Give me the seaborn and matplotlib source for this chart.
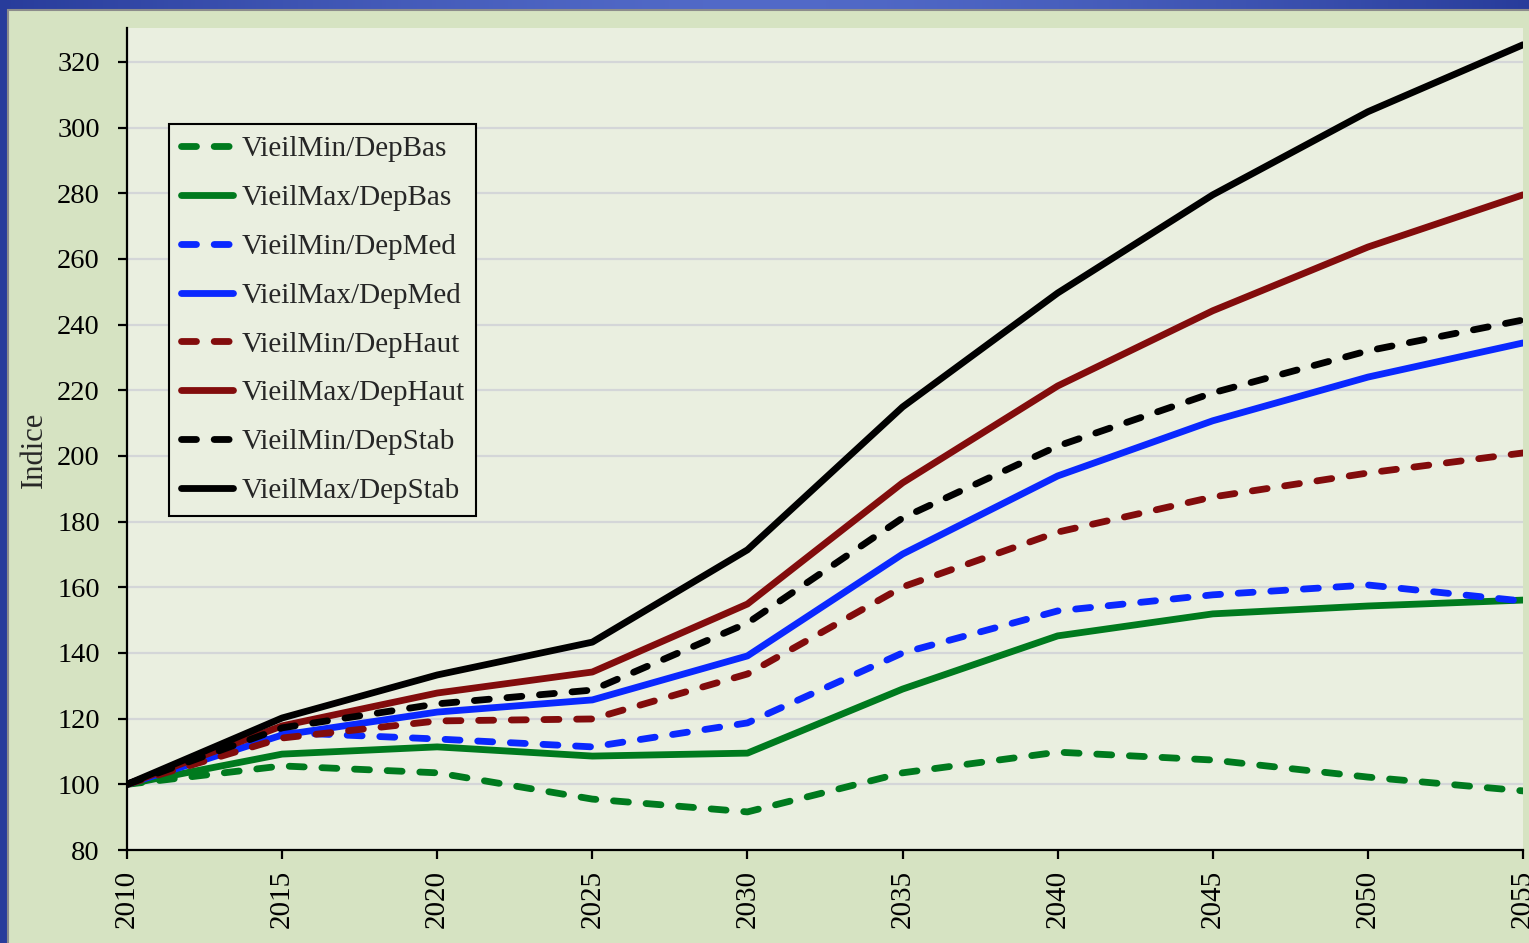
import numpy as np
import pandas as pd
import matplotlib
matplotlib.use("Agg")
import matplotlib.pyplot as plt
from matplotlib.patches import Rectangle
import seaborn as sns

# Index values (base 100 in 2010) for each ageing / dependency scenario
years = [2010, 2015, 2020, 2025, 2030, 2035, 2040, 2045, 2050, 2055]
vieilmin_depbas = [100, 105.6, 103.5, 95.5, 91.6, 103.5, 109.8, 107.4, 102.2, 98.0]
vieilmax_depbas = [100, 109.2, 111.4, 108.6, 109.5, 129.0, 145.2, 151.9, 154.3, 156.1]
vieilmin_depmed = [100, 115.8, 113.8, 111.4, 118.7, 140.0, 152.8, 157.7, 160.7, 155.8]
vieilmax_depmed = [100, 115.0, 122.0, 125.7, 139.1, 170.1, 193.9, 210.7, 224.0, 234.4]
vieilmin_dephaut = [100, 114.1, 119.3, 119.9, 133.6, 160.1, 176.8, 187.5, 194.8, 200.9]
vieilmax_dephaut = [100, 117.8, 127.8, 134.2, 154.9, 191.8, 221.3, 244.2, 263.6, 279.5]
vieilmin_depstab = [100, 117.2, 124.5, 128.7, 149.1, 181.1, 203.0, 219.2, 232.0, 241.4]
vieilmax_depstab = [100, 120.2, 133.3, 143.3, 171.4, 214.9, 249.6, 279.5, 304.8, 325.2]

series_names = [
    "VieilMin/DepBas", "VieilMax/DepBas",
    "VieilMin/DepMed", "VieilMax/DepMed",
    "VieilMin/DepHaut", "VieilMax/DepHaut",
    "VieilMin/DepStab", "VieilMax/DepStab",
]
series_values = [
    vieilmin_depbas, vieilmax_depbas,
    vieilmin_depmed, vieilmax_depmed,
    vieilmin_dephaut, vieilmax_dephaut,
    vieilmin_depstab, vieilmax_depstab,
]
yticks = [80, 100, 120, 140, 160, 180, 200, 220, 240, 260, 280, 300, 320]

GREEN = "#007a1e"
BLUE = "#0a28ff"
DARKRED = "#820c0c"
BLACK = "#000000"
series_colors = [GREEN, GREEN, BLUE, BLUE, DARKRED, DARKRED, BLACK, BLACK]
series_dashed = [True, False, True, False, True, False, True, False]

df = pd.DataFrame({
    "annee": np.tile(years, len(series_names)),
    "indice": np.concatenate(series_values),
    "serie": np.repeat(series_names, len(years)),
})

sns.set_theme(style="white")
plt.rcParams["font.family"] = ["Liberation Serif", "DejaVu Serif"]

W, H = 1529, 943
fig = plt.figure(figsize=(W / 100, H / 100), dpi=100)

# Slide background: blue gradient
bg = fig.add_axes([0, 0, 1, 1], zorder=-10)
xs = np.linspace(-1, 1, 400)
t = 1 - np.abs(xs) ** 1.5
c0 = np.array([40, 60, 155]) / 255
c1 = np.array([82, 106, 200]) / 255
grad = c0[None, :] + (c1 - c0)[None, :] * t[:, None]
bg.imshow(grad[None, :, :], aspect="auto", extent=[0, 1, 0, 1])
bg.set_xlim(0, 1)
bg.set_ylim(0, 1)
bg.axis("off")

# Chart panel
panel_left = 8 / W
panel_top = 1 - 10 / H
bg.add_patch(Rectangle((panel_left, -0.01), 1.02 - panel_left, panel_top + 0.01,
                       facecolor="#d6e3c2", edgecolor="#8c8c8c", lw=1.5,
                       transform=bg.transAxes, zorder=2))

ax_left, ax_right = 127 / W, 1523 / W
ax_bottom, ax_top = 1 - 850 / H, 1 - 28 / H
ax = fig.add_axes([ax_left, ax_bottom, ax_right - ax_left, ax_top - ax_bottom])
ax.set_facecolor("#eaefe0")

lw = 4.9
for name, color, dashed in zip(series_names, series_colors, series_dashed):
    sub = df[df["serie"] == name]
    kws = dict(color=color, lw=lw, label=name, solid_capstyle="round",
               solid_joinstyle="round", dash_capstyle="round", dash_joinstyle="round")
    if dashed:
        kws["linestyle"] = (0, (2.2, 2.6))
    sns.lineplot(data=sub, x="annee", y="indice", ax=ax, legend=False, **kws)

ax.set_xlim(2010, 2055)
ax.set_ylim(80, 330.3)
ax.set_xticks(years)
ax.set_xticklabels([str(y) for y in years], rotation=90, fontsize=21)
ax.set_yticks(yticks)
ax.set_yticklabels([str(v) for v in yticks], fontsize=20.5)
ax.yaxis.grid(True, color="#d4d6d8", lw=1.6)
ax.set_axisbelow(True)
ax.tick_params(axis="both", which="major", direction="out", length=6.5, width=1.6,
               color="black", labelcolor="black")
ax.tick_params(axis="y", left=True, pad=13)
ax.tick_params(axis="x", bottom=True, pad=8)
for side in ["top", "right"]:
    ax.spines[side].set_visible(False)
for side in ["left", "bottom"]:
    ax.spines[side].set_color("black")
    ax.spines[side].set_linewidth(1.6)

ax.set_xlabel("")
ax.set_ylabel("Indice", fontsize=22)
ax.yaxis.set_label_coords(-0.056, 0.4866)

leg = ax.legend(loc="upper left", bbox_to_anchor=(0.0301, 0.8832), borderaxespad=0,
                fontsize=21, frameon=True, fancybox=False, handlelength=1.78,
                handletextpad=0.3, borderpad=0.4, labelspacing=0.77)
frame = leg.get_frame()
frame.set_edgecolor("black")
frame.set_linewidth(1.5)
frame.set_facecolor("#eaefe0")
frame.set_alpha(1)

fig.savefig("out.png", dpi=100)
